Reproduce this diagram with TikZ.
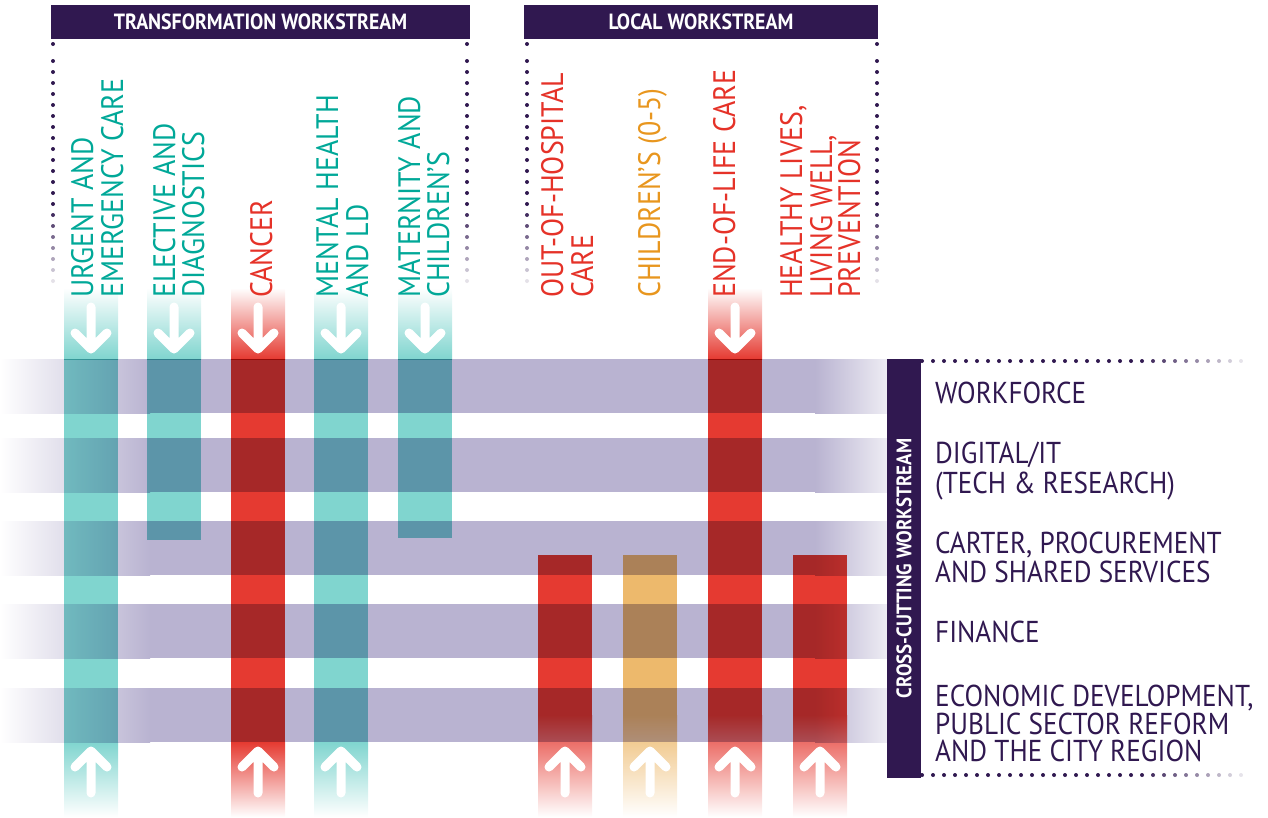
\documentclass[tikz,border=0pt]{standalone}
\usepackage{fontspec}
\setmainfont{PT Sans}[FakeStretch=0.9]
\definecolor{dpurple}{RGB}{48,24,80}
\definecolor{bandc}{RGB}{185,179,209}
\definecolor{tealc}{RGB}{128,213,207}
\definecolor{redc}{RGB}{229,58,49}
\definecolor{orangec}{RGB}{237,185,108}
\definecolor{tealtext}{RGB}{0,168,152}
\definecolor{redtext}{RGB}{229,50,40}
\definecolor{orangetext}{RGB}{232,150,30}
\begin{document}
\begin{tikzpicture}[x=1pt,y=-1pt,
  arr/.style={draw=white, line width=9pt, line cap=round, line join=round},
  vlab/.style={rotate=90, anchor=base west, inner sep=0pt, font=\fontsize{31}{31}\selectfont},
  rlab/.style={anchor=base west, inner sep=0pt, text height=21pt, text depth=0pt, text=dpurple, font=\fontsize{30.2}{30}\selectfont},
  hdr/.style={fill=dpurple, inner sep=0pt, text=white, minimum height=34pt, font=\fontsize{22}{22}\selectfont\bfseries}
]
\useasboundingbox (0,0) rectangle (1268,817);
% horizontal bands
\foreach \t in {359,438,521,604,688} {
  \shade[left color=white, right color=bandc] (0,\t) rectangle (150,\t+54);
  \fill[bandc] (150,\t) rectangle (815,\t+54);
  \shade[left color=bandc, right color=bandc!25] (815,\t) rectangle (887,\t+54);
}
% columns
\begin{scope}[blend mode=multiply]
  % full transformation columns with both arrows
  \foreach \x/\c in {64/tealc,314/tealc,231/redc} {
    \shade[top color=white, bottom color=\c] (\x,288) rectangle (\x+54,359);
    \fill[\c] (\x,359) rectangle (\x+54,742);
    \shade[top color=\c, bottom color=white] (\x,742) rectangle (\x+54,817);
  }
  % short transformation columns
  \foreach \x/\e in {147/540,398/538} {
    \shade[top color=white, bottom color=tealc] (\x,288) rectangle (\x+54,359);
    \fill[tealc] (\x,359) rectangle (\x+54,\e);
  }
  % end-of-life
  \shade[top color=white, bottom color=redc] (708,288) rectangle (762,359);
  \fill[redc] (708,359) rectangle (762,715);
  \shade[top color=redc, bottom color=white] (708,715) rectangle (762,817);
  % local columns starting lower
  \foreach \x/\c in {538/redc,623/orangec,793/redc} {
    \fill[\c] (\x,555) rectangle (\x+54,715);
    \shade[top color=\c, bottom color=white] (\x,715) rectangle (\x+54,817);
  }
\end{scope}
% arrows down
\foreach \cx in {91,174,258,341,425,735} {
  \draw[arr] (\cx,307) -- (\cx,349) (\cx-16,333) -- (\cx,349) -- (\cx+16,333);
}
% arrows up
\foreach \cx in {91,258,341,565,650,735,820} {
  \draw[arr] (\cx,793) -- (\cx,751) (\cx-16,767) -- (\cx,751) -- (\cx+16,767);
}
% dotted lines vertical
\foreach \x in {53,467,527,877} {
  \fill[dpurple] (\x,44) circle (2pt);
  \foreach \i in {0,...,20} {
    \pgfmathsetmacro\yy{61+\i*11}
    \pgfmathsetmacro\op{min(1,(292-\yy)/85)}
    \fill[dpurple, opacity=\op] (\x,\yy) circle (2pt);
  }
}
% dotted lines horizontal
\foreach \yy in {361,775} {
  \foreach \i in {0,...,29} {
    \pgfmathsetmacro\xx{922+\i*11}
    \pgfmathsetmacro\op{min(1,(1255-\xx)/115)}
    \fill[dpurple, opacity=\op] (\xx,\yy) circle (2pt);
  }
}
% headers
\node[hdr, minimum width=419pt] (tw) at (260.5,22) {TRANSFORMATION WORKSTREAM};
\node[hdr, minimum width=354pt] (lw) at (701,22) {LOCAL WORKSTREAM};
\node[hdr, rotate=90, minimum width=419pt, font=\fontsize{21}{21}\selectfont\bfseries] (cw) at (904,568.5) {CROSS-CUTTING WORKSTREAM};
% column labels
\node[vlab, text=tealtext] (l1a) at (93,298) {URGENT AND};
\node[vlab, text=tealtext] (l1b) at (123,298) {EMERGENCY CARE};
\node[vlab, text=tealtext] (l2a) at (175,298) {ELECTIVE AND};
\node[vlab, text=tealtext] (l2b) at (204,298) {DIAGNOSTICS};
\node[vlab, text=redtext] (l3a) at (272,298) {CANCER};
\node[vlab, text=tealtext] (l4a) at (338,298) {MENTAL HEALTH};
\node[vlab, text=tealtext] (l4b) at (368,298) {AND LD};
\node[vlab, text=tealtext] (l5a) at (420,298) {MATERNITY AND};
\node[vlab, text=tealtext] (l5b) at (449,298) {CHILDREN’S};
\node[vlab, text=redtext] (l6a) at (563,298) {OUT-OF-HOSPITAL};
\node[vlab, text=redtext] (l6b) at (593,298) {CARE};
\node[vlab, text=orangetext] (l7a) at (660,298) {CHILDREN’S (0-5)};
\node[vlab, text=redtext] (l8a) at (735,298) {END-OF-LIFE CARE};
\node[vlab, text=redtext] (l9a) at (802,298) {HEALTHY LIVES,};
\node[vlab, text=redtext] (l9b) at (832,298) {LIVING WELL,};
\node[vlab, text=redtext] (l9c) at (860,298) {PREVENTION};
% right labels
\node[rlab] (r1) at (935,403) {WORKFORCE};
\node[rlab] (r2a) at (935,463) {DIGITAL/IT};
\node[rlab] (r2b) at (935,493) {(TECH \& RESEARCH)};
\node[rlab] (r3a) at (935,553) {CARTER, PROCUREMENT};
\node[rlab] (r3b) at (935,582) {AND SHARED SERVICES};
\node[rlab] (r4) at (935,642) {FINANCE};
\node[rlab] (r5a) at (935,706) {ECONOMIC DEVELOPMENT,};
\node[rlab] (r5b) at (935,734) {PUBLIC SECTOR REFORM};
\node[rlab] (r5c) at (935,761) {AND THE CITY REGION};
\end{tikzpicture}
\end{document}
